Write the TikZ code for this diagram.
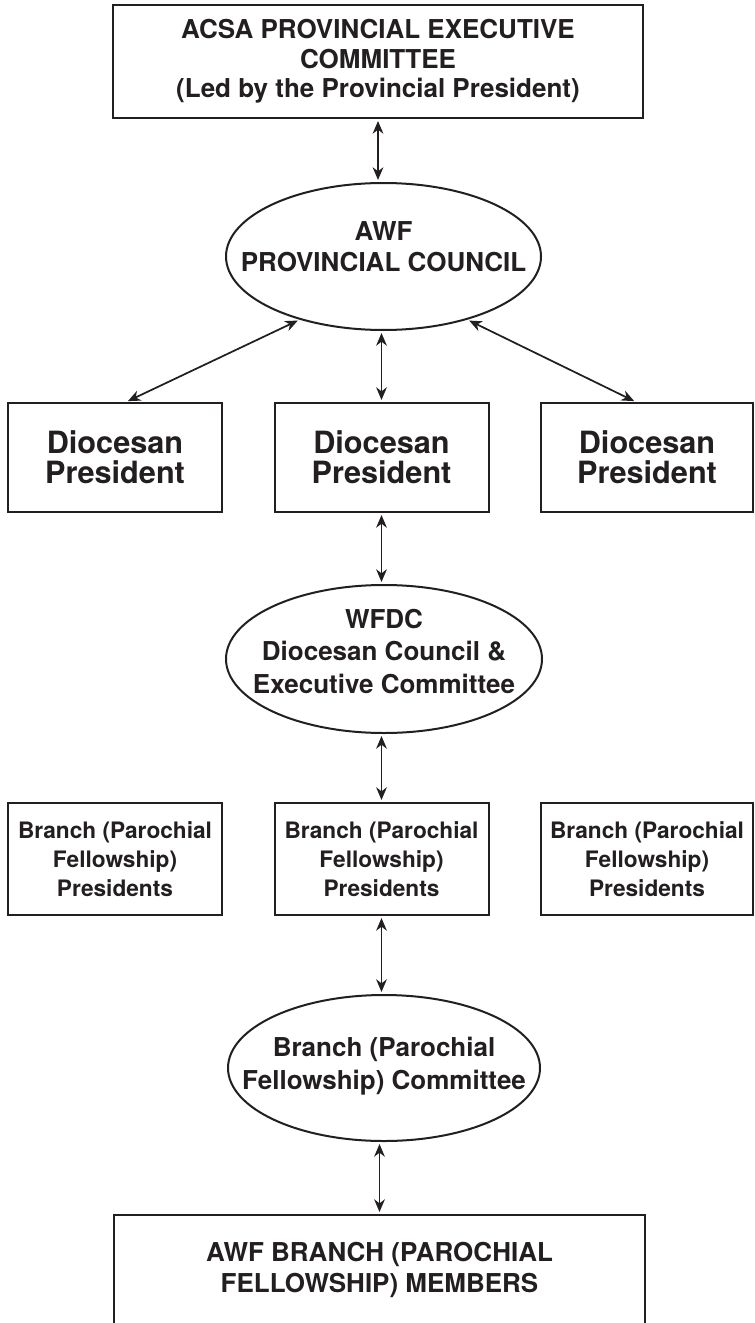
\documentclass[tikz,border=0pt]{standalone}
\usepackage{fontspec}
\setmainfont{TeX Gyre Heros}
\usetikzlibrary{shapes.geometric,arrows.meta,calc}
\definecolor{ink}{HTML}{231F20}
\begin{document}
\begin{tikzpicture}[x=0.75pt,y=-0.75pt,
  line/.style={draw=ink, line width=1.5pt},
  box/.style={line, rectangle, inner sep=0pt, align=center, text=ink},
  oval/.style={line, ellipse, inner sep=0pt},
  txt/.style={align=center, text=ink, inner sep=0pt},
  big/.style={font=\fontsize{19.5}{23.25}\selectfont\bfseries},
  dio/.style={font=\fontsize{23}{22.5}\selectfont\bfseries},
  br/.style={font=\fontsize{17}{21.75}\selectfont\bfseries},
  tip/.style={},
  arr/.style={draw=ink, line width=1.3pt,
    {Stealth[length=9.5pt,width=8pt,inset=3pt]}-{Stealth[length=9.5pt,width=8pt,inset=3pt]},
    shorten <=1.5pt, shorten >=1.5pt}
]
\useasboundingbox (0,0) rectangle (755,1323);
\clip (0,0) rectangle (755,1323);
\fill[white] (0,0) rectangle (755,1323);

% top box
\node[box, font=\fontsize{19.5}{22}\selectfont\bfseries, minimum width=397.5pt, minimum height=84.75pt] (top) at (378,61.5)
  {ACSA PROVINCIAL EXECUTIVE\\COMMITTEE\\(Led by the Provincial President)};

% provincial council
\node[oval, minimum width=236.25pt, minimum height=110.25pt] (e1) at (383.5,256.5) {};
\node[txt, big] (e1t) at (383.5,246.5) {AWF\\PROVINCIAL COUNCIL};

% diocesan presidents
\node[box, dio, minimum width=160.5pt, minimum height=81.75pt] (d1) at (115,457.5) {Diocesan\\President};
\node[box, dio, minimum width=160.5pt, minimum height=81.75pt] (d2) at (381.5,457.5) {Diocesan\\President};
\node[box, dio, minimum width=159pt, minimum height=81.75pt] (d3) at (647,457.5) {Diocesan\\President};

% WFDC
\node[oval, minimum width=237pt, minimum height=111pt] (e2) at (384,659) {};
\node[txt, font=\fontsize{19.5}{24.4}\selectfont\bfseries] (e2t) at (384,651.5) {WFDC\\Diocesan Council \&\\Executive Committee};

% branch presidents
\node[box, br, minimum width=160.5pt, minimum height=84pt] (b1) at (115,859) {Branch (Parochial\\Fellowship)\\Presidents};
\node[box, br, minimum width=160.5pt, minimum height=84pt] (b2) at (381.5,859) {Branch (Parochial\\Fellowship)\\Presidents};
\node[box, br, minimum width=159pt, minimum height=84pt] (b3) at (647,859) {Branch (Parochial\\Fellowship)\\Presidents};

% branch committee
\node[oval, minimum width=234pt, minimum height=109.5pt] (e3) at (384,1068) {};
\node[txt, font=\fontsize{19.5}{24.75}\selectfont\bfseries] (e3t) at (384,1066.5) {Branch (Parochial\\Fellowship) Committee};

% members
\node[box, big, minimum width=398.25pt, minimum height=82.5pt] (bot) at (379.5,1270) {AWF BRANCH (PAROCHIAL\\FELLOWSHIP) MEMBERS};

% connectors
\draw[arr] (top.south) -- (top.south |- e1.north);
\draw[arr] (e1.217) -- ($(d1.north)+(11,0)$);
\draw[arr] (e1.south -| d2.north) -- (d2.north);
\draw[arr] (e1.323) -- ($(d3.north)+(-11,0)$);
\draw[arr] (d2.south) -- (d2.south |- e2.north);
\draw[arr] (e2.south -| b2.north) -- (b2.north);
\draw[arr] (b2.south) -- (b2.south |- e3.north);
\draw[arr] (e3.south -| bot.north) -- (bot.north);
\end{tikzpicture}
\end{document}
